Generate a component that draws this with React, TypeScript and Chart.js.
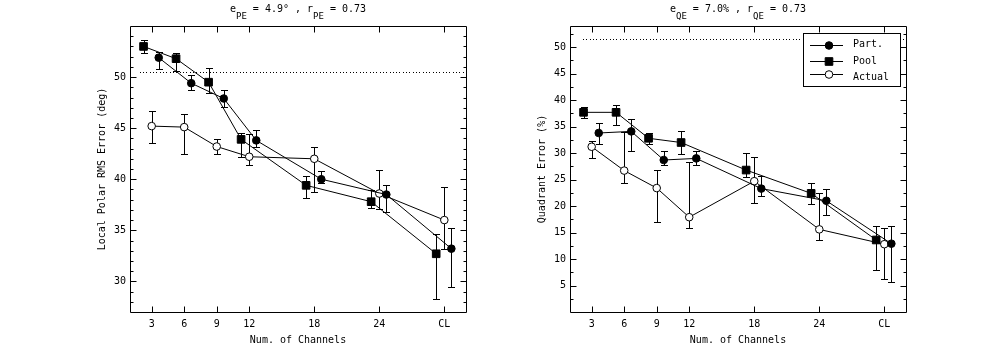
import React, { useEffect, useRef } from "react";
import { Chart, registerables } from "chart.js";

Chart.register(...registerables);

const FONT = "'DejaVu Sans Mono', monospace";

// ---- categories (x) ----
const channelValues = [3, 6, 9, 12, 18, 24, 30];
const channelLabels = ["3", "6", "9", "12", "18", "24", "CL"];
const seriesNames = ["Part.", "Pool", "Actual"];
const seriesOffsets = [0.65, -0.75, 0];

// ---- left panel: Local Polar RMS Error (deg) ----
const polarPart = [51.9, 49.4, 47.9, 43.8, 40.0, 38.5, 33.2];
const polarPartLo = [50.8, 48.7, 47.1, 43.2, 39.6, 36.8, 29.4];
const polarPartHi = [52.5, 50.2, 48.7, 44.8, 40.8, 39.4, 35.2];
const polarPool = [53.0, 51.8, 49.5, 43.9, 39.4, 37.8, 32.7];
const polarPoolLo = [52.4, 50.6, 48.4, 42.2, 38.2, 37.2, 28.3];
const polarPoolHi = [53.6, 52.4, 50.9, 44.5, 40.3, 38.9, 34.6];
const polarActual = [45.2, 45.1, 43.2, 42.2, 42.0, 38.6, 36.0];
const polarActualLo = [43.5, 42.5, 42.5, 41.4, 38.7, 37.1, 33.2];
const polarActualHi = [46.7, 46.4, 43.9, 44.4, 43.2, 40.9, 39.2];
const polarYTicks = [30, 35, 40, 45, 50];
const polarRef = 50.5;

// ---- right panel: Quadrant Error (%) ----
const quadPart = [33.8, 34.1, 28.7, 29.0, 23.3, 21.0, 12.9];
const quadPartLo = [31.8, 30.4, 27.7, 27.8, 21.9, 18.3, 5.6];
const quadPartHi = [35.7, 36.4, 30.4, 30.4, 25.6, 23.2, 16.3];
const quadPool = [37.7, 37.7, 32.8, 32.0, 26.8, 22.4, 13.6];
const quadPoolLo = [36.7, 35.4, 31.7, 29.9, 25.5, 20.3, 7.9];
const quadPoolHi = [38.8, 39.1, 33.8, 34.1, 30.0, 24.4, 16.3];
const quadActual = [31.2, 26.7, 23.4, 17.9, 24.7, 15.6, 12.8];
const quadActualLo = [29.1, 24.3, 17.0, 15.8, 20.6, 13.6, 6.3];
const quadActualHi = [32.2, 33.9, 26.9, 28.4, 29.2, 22.4, 15.9];
const quadYTicks = [5, 10, 15, 20, 25, 30, 35, 40, 45, 50];
const quadRef = 51.5;

type Part = { t: string; sub: boolean };

type PanelSpec = {
  yTitle: string;
  yMin: number;
  yMax: number;
  yTicks: number[];
  minorStep: number;
  means: number[][];
  los: number[][];
  his: number[][];
  refValue: number;
  refStart: number;
  titleParts: Part[];
  yAxisWidth: number;
  padRight: number;
  yTitlePad: number;
  legend: boolean;
};

const pointStyles = [
  { style: "circle", radius: 3.8, bg: "#000" },
  { style: "rect", radius: 5.4, bg: "#000" },
  { style: "circle", radius: 3.8, bg: "#fff" },
];

function crisp(v: number) {
  return Math.round(v) + 0.5;
}

function buildChart(canvas: HTMLCanvasElement, spec: PanelSpec) {
  const font = { family: FONT, size: 10 };

  const datasets = spec.means.map((vals, si) => ({
    label: seriesNames[si],
    data: vals.map((v, i) => ({ x: channelValues[i] + seriesOffsets[si], y: v })),
    errLo: spec.los[si],
    errHi: spec.his[si],
    borderColor: "#000",
    borderWidth: 1,
    showLine: true,
    fill: false,
    tension: 0,
    pointStyle: pointStyles[si].style,
    pointRadius: pointStyles[si].radius,
    pointBackgroundColor: pointStyles[si].bg,
    pointBorderColor: "#000",
    pointBorderWidth: 1,
  }));

  const framePlugin = {
    id: "frameTicks",
    beforeDatasetsDraw(chart: any) {
      const { ctx, chartArea: ca, scales } = chart;
      const xs = scales.x;
      const ys = scales.y;
      ctx.save();
      ctx.strokeStyle = "#000";
      ctx.lineWidth = 1;
      ctx.setLineDash([]);
      ctx.beginPath();
      const L = crisp(ca.left), R = crisp(ca.right), T = crisp(ca.top), B = crisp(ca.bottom);
      ctx.rect(L, T, R - L, B - T);
      // x ticks
      channelValues.forEach((v) => {
        const px = crisp(xs.getPixelForValue(v));
        ctx.moveTo(px, B);
        ctx.lineTo(px, B - 6);
        ctx.moveTo(px, T);
        ctx.lineTo(px, T + 6);
      });
      // y ticks (major + minor)
      const start = Math.ceil(spec.yMin / spec.minorStep) * spec.minorStep;
      for (let v = start; v <= spec.yMax + 1e-9; v += spec.minorStep) {
        const isMajor = Math.abs(v / 5 - Math.round(v / 5)) < 1e-6;
        const len = isMajor ? 6 : 3;
        const py = crisp(ys.getPixelForValue(v));
        if (py <= T + 0.1 || py >= B - 0.1) continue;
        ctx.moveTo(L, py);
        ctx.lineTo(L + len, py);
        ctx.moveTo(R, py);
        ctx.lineTo(R - len, py);
      }
      ctx.stroke();

      // dotted reference line (1px dots)
      ctx.fillStyle = "#000";
      const ry = Math.round(ys.getPixelForValue(spec.refValue));
      const x0 = xs.getPixelForValue(spec.refStart);
      for (let x = x0; x < ca.right - 1; x += 3.33) {
        ctx.fillRect(Math.round(x), ry, 1, 1);
      }

      // error bars
      ctx.beginPath();
      chart.data.datasets.forEach((ds: any, di: number) => {
        const meta = chart.getDatasetMeta(di);
        meta.data.forEach((pt: any, i: number) => {
          const px = crisp(pt.x);
          const yLo = Math.round(ys.getPixelForValue(ds.errLo[i])) + 0.5;
          const yHi = Math.round(ys.getPixelForValue(ds.errHi[i])) + 0.5;
          ctx.moveTo(px, yLo);
          ctx.lineTo(px, yHi);
          ctx.moveTo(px - 3.5, yLo);
          ctx.lineTo(px + 3.5, yLo);
          ctx.moveTo(px - 3.5, yHi);
          ctx.lineTo(px + 3.5, yHi);
        });
      });
      ctx.stroke();
      ctx.restore();
    },
  };

  const titlePlugin = {
    id: "subTitle",
    afterDraw(chart: any) {
      const { ctx, chartArea: ca } = chart;
      ctx.save();
      const mainFont = `10px ${FONT}`;
      const subFont = `9px ${FONT}`;
      let total = 0;
      const widths = spec.titleParts.map((p) => {
        ctx.font = p.sub ? subFont : mainFont;
        const w = ctx.measureText(p.t).width;
        total += w;
        return w;
      });
      let x = (ca.left + ca.right) / 2 - total / 2;
      ctx.fillStyle = "#000";
      ctx.textAlign = "left";
      ctx.textBaseline = "middle";
      spec.titleParts.forEach((p, i) => {
        ctx.font = p.sub ? subFont : mainFont;
        ctx.fillText(p.t, x, p.sub ? 17 : 9.5);
        x += widths[i];
      });
      ctx.restore();
    },
  };

  const legendPlugin = {
    id: "insideLegend",
    afterDraw(chart: any) {
      if (!spec.legend) return;
      const { ctx, chartArea: ca } = chart;
      ctx.save();
      const bx = crisp(ca.right - 103);
      const bx2 = crisp(ca.right - 6);
      const by = crisp(ca.top + 7);
      const by2 = crisp(ca.top + 60);
      ctx.fillStyle = "#fff";
      ctx.fillRect(bx, by, bx2 - bx, by2 - by);
      ctx.strokeStyle = "#000";
      ctx.lineWidth = 1;
      ctx.strokeRect(bx, by, bx2 - bx, by2 - by);
      const rowMarkerY = [ca.top + 18.5, ca.top + 35, ca.top + 47.5];
      const rowTextY = [ca.top + 18.5, ca.top + 35.5, ca.top + 51.5];
      const lx1 = ca.right - 96;
      const lx2 = ca.right - 63;
      const mx = ca.right - 77;
      seriesNames.forEach((name, si) => {
        const my = crisp(rowMarkerY[si]);
        ctx.beginPath();
        ctx.moveTo(lx1, my);
        ctx.lineTo(lx2, my);
        ctx.stroke();
        const ps = pointStyles[si];
        ctx.beginPath();
        if (ps.style === "rect") {
          const s = ps.radius * Math.SQRT1_2;
          ctx.rect(mx - s, my - s, 2 * s, 2 * s);
        } else {
          ctx.arc(mx, my, ps.radius, 0, Math.PI * 2);
        }
        ctx.fillStyle = ps.bg;
        ctx.fill();
        ctx.stroke();
        ctx.fillStyle = "#000";
        ctx.font = `10px ${FONT}`;
        ctx.textAlign = "left";
        ctx.textBaseline = "middle";
        ctx.fillText(name, ca.right - 53, rowTextY[si]);
      });
      ctx.restore();
    },
  };

  return new Chart(canvas, {
    type: "line",
    data: { datasets: datasets as any },
    plugins: [framePlugin, titlePlugin, legendPlugin],
    options: {
      responsive: false,
      animation: false,
      layout: { padding: { left: 0, right: spec.padRight, top: 26, bottom: 0 } },
      plugins: {
        legend: { display: false },
        tooltip: { enabled: false },
        title: { display: false },
      },
      scales: {
        x: {
          type: "linear",
          min: 1,
          max: 32,
          grid: { display: false, drawTicks: false },
          border: { display: false },
          afterBuildTicks: (s: any) => {
            s.ticks = channelValues.map((v) => ({ value: v }));
          },
          afterFit: (s: any) => {
            s.height = 38;
          },
          ticks: {
            autoSkip: false,
            maxRotation: 0,
            padding: 6,
            color: "#000",
            font,
            callback: (v: any) => {
              const i = channelValues.indexOf(Number(v));
              return i >= 0 ? channelLabels[i] : "";
            },
          },
          title: {
            display: true,
            text: "Num. of Channels",
            color: "#000",
            font,
            padding: { top: 0, bottom: 4 },
          },
        },
        y: {
          type: "linear",
          min: spec.yMin,
          max: spec.yMax,
          grid: { display: false, drawTicks: false },
          border: { display: false },
          afterBuildTicks: (s: any) => {
            s.ticks = spec.yTicks.map((v) => ({ value: v }));
          },
          afterFit: (s: any) => {
            s.width = spec.yAxisWidth;
          },
          ticks: {
            padding: 4,
            color: "#000",
            font,
            callback: (v: any) => String(v),
          },
          title: {
            display: true,
            text: spec.yTitle,
            color: "#000",
            font,
            padding: { top: spec.yTitlePad, bottom: 0 },
          },
        },
      },
    } as any,
  });
}

const leftSpec: PanelSpec = {
  yTitle: "Local Polar RMS Error (deg)",
  yMin: 27,
  yMax: 55,
  yTicks: polarYTicks,
  minorStep: 1,
  means: [polarPart, polarPool, polarActual],
  los: [polarPartLo, polarPoolLo, polarActualLo],
  his: [polarPartHi, polarPoolHi, polarActualHi],
  refValue: polarRef,
  refStart: 1.9,
  titleParts: [
    { t: "e", sub: false },
    { t: "PE", sub: true },
    { t: " = 4.9° , r", sub: false },
    { t: "PE", sub: true },
    { t: " = 0.73", sub: false },
  ],
  yAxisWidth: 130,
  padRight: 34,
  yTitlePad: 96,
  legend: false,
};

const rightSpec: PanelSpec = {
  yTitle: "Quadrant Error (%)",
  yMin: 0,
  yMax: 54,
  yTicks: quadYTicks,
  minorStep: 2.5,
  means: [quadPart, quadPool, quadActual],
  los: [quadPartLo, quadPoolLo, quadActualLo],
  his: [quadPartHi, quadPoolHi, quadActualHi],
  refValue: quadRef,
  refStart: 2.2,
  titleParts: [
    { t: "e", sub: false },
    { t: "QE", sub: true },
    { t: " = 7.0% , r", sub: false },
    { t: "QE", sub: true },
    { t: " = 0.73", sub: false },
  ],
  yAxisWidth: 70,
  padRight: 94,
  yTitlePad: 36,
  legend: true,
};

export default function App() {
  const leftRef = useRef<HTMLCanvasElement>(null);
  const rightRef = useRef<HTMLCanvasElement>(null);

  useEffect(() => {
    const c1 = buildChart(leftRef.current as HTMLCanvasElement, leftSpec);
    const c2 = buildChart(rightRef.current as HTMLCanvasElement, rightSpec);
    return () => {
      c1.destroy();
      c2.destroy();
    };
  }, []);

  return (
    <div style={{ position: "absolute", left: 0, top: 0, width: 1000, height: 350, background: "#fff" }}>
      <canvas
        ref={leftRef}
        width={500}
        height={350}
        style={{ position: "absolute", left: 0, top: 0, width: 500, height: 350 }}
      />
      <canvas
        ref={rightRef}
        width={500}
        height={350}
        style={{ position: "absolute", left: 500, top: 0, width: 500, height: 350 }}
      />
    </div>
  );
}
